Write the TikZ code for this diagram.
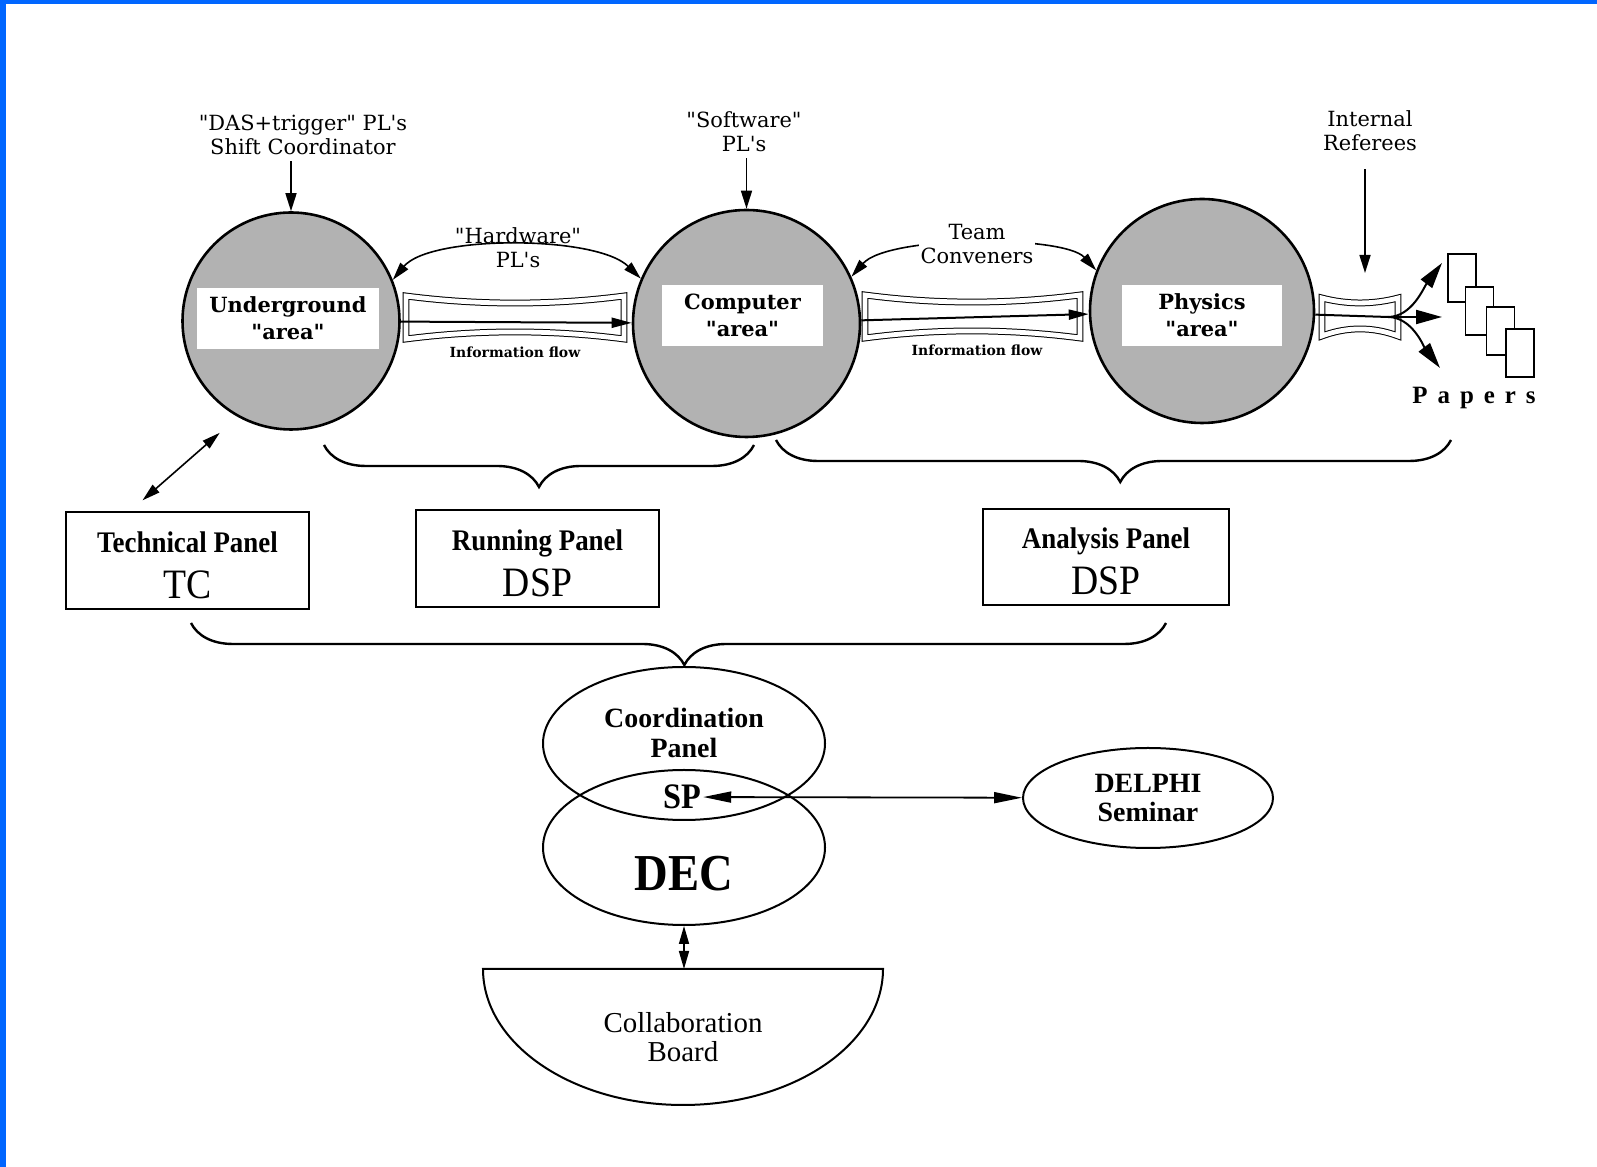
\documentclass[tikz,border=0pt]{standalone}
\usepackage{fontspec}
\setmainfont{Liberation Serif}
\newfontfamily\topfont{DejaVu Serif}
\newfontfamily\narrowfont{Liberation Serif}[FakeStretch=0.9]
\usetikzlibrary{arrows.meta,decorations.pathreplacing,shapes.geometric}
\definecolor{frameblue}{RGB}{0,102,255}
\definecolor{areagray}{gray}{0.7}
\newcommand\paneltag[1]{{\narrowfont\mdseries\fontsize{21}{21}\selectfont #1}}
\tikzset{
  area/.style={draw,circle,line width=1.3bp,fill=areagray,inner sep=0pt},
  areabox/.style={fill=white,inner sep=0pt,align=center,font=\topfont\bfseries\fontsize{10.5}{13.5}\selectfont},
  toplabel/.style={align=center,inner sep=1bp,font=\topfont\fontsize{10.5}{12}\selectfont},
  flowlabel/.style={inner sep=1bp,font=\topfont\bfseries\fontsize{7}{8}\selectfont},
  tube/.style={double,double distance=2.4bp,line width=.5bp},
  shaft/.style={line width=1bp,-{Triangle[length=10bp,width=5bp]}},
  dnarrow/.style={line width=.8bp,-{Triangle[length=9bp,width=5.5bp]}},
  twoway/.style={line width=.8bp,{Triangle[length=9bp,width=5bp]}-{Triangle[length=9bp,width=5bp]}},
  longway/.style={line width=.9bp,{Triangle[length=14bp,width=5.5bp]}-{Triangle[length=14bp,width=5.5bp]}},
  fanarrow/.style={line width=1bp,-{Triangle[length=13bp,width=7bp]}},
  paper/.style={draw,fill=white,line width=.7bp,minimum width=14bp,minimum height=24bp,inner sep=0pt},
  bracket/.style={decorate,decoration={brace,mirror,amplitude=21bp,aspect=#1},line width=1.2bp},
  panel/.style={draw,line width=1.1bp,minimum width=121.5bp,minimum height=48.5bp,align=center,
    font=\narrowfont\bfseries\fontsize{15}{23}\selectfont},
  ring/.style={draw,ellipse,line width=1bp,inner sep=0pt,align=center,
    font=\bfseries\fontsize{14}{15}\selectfont},
  ringtext/.style={align=center,inner sep=1bp,font=\bfseries\fontsize{14}{15}\selectfont},
}
\begin{document}
\begin{tikzpicture}
  \useasboundingbox (0bp,0bp) rectangle (798.5bp,583.5bp);
  \fill[frameblue] (0bp,0bp) rectangle (3bp,583.5bp);
  \fill[frameblue] (0bp,581.5bp) rectangle (798.5bp,583.5bp);
  %% the three areas
  \node (Underground) at (145.5bp,423bp) [area,minimum size=108.5bp] {};
  \node (Computer) at (373.25bp,421.75bp) [area,minimum size=113.5bp] {};
  \node (Physics) at (601bp,428bp) [area,minimum size=112bp] {};
  \node (Ulab) at (144bp,424.25bp) [areabox,minimum width=91bp,minimum height=30.5bp] {Underground\\"area"};
  \node (Clab) at (371.25bp,425.75bp) [areabox,minimum width=80.5bp,minimum height=30.5bp] {Computer\\"area"};
  \node (Plab) at (601bp,425.75bp) [areabox,minimum width=80bp,minimum height=30.5bp] {Physics\\"area"};
  %% people above
  \node (DAS) at (151.5bp,516bp) [toplabel] {"DAS+trigger" PL\textquotesingle s\\Shift Coordinator};
  \node (Soft) at (372bp,517.5bp) [toplabel] {"Software"\\PL\textquotesingle s};
  \node (Ref) at (685bp,518bp) [toplabel] {Internal\\Referees};
  \coordinate (refend) at (682.5bp,447bp);
  \draw [dnarrow,shorten <=2bp] (DAS.south -| Underground.north) -- (Underground.north);
  \draw [dnarrow,shorten <=2bp] (Soft.south -| Computer.north) -- (Computer.north);
  \draw [dnarrow,shorten <=8bp] (Ref.south -| refend) -- (refend);
  \draw [twoway] (Underground.22) ..controls (215bp,466bp) and (298bp,466bp) .. (Computer.157);
  \node (HW) at (259bp,459.75bp) [toplabel] {"Hardware"\\PL\textquotesingle s};
  \draw [twoway] (Computer.24) ..controls (444bp,466bp) and (532bp,466bp) .. (Physics.159);
  \node (TCv) at (488.5bp,461.5bp) [toplabel,fill=white] {Team\\Conveners};
  %% information flow
  \draw [tube] (203bp,435.5bp) ..controls (239bp,430.8bp) and (276bp,430.8bp) .. (312bp,435.5bp)
    -- (312bp,414bp) ..controls (276bp,418.7bp) and (239bp,418.7bp) .. (203bp,414bp) -- cycle;
  \draw [shaft] (Underground) -- (Computer);
  \node (flow1) at (257.5bp,407.5bp) [flowlabel] {Information flow};
  \draw [tube] (432.5bp,436bp) ..controls (468bp,431.3bp) and (504bp,431.3bp) .. (540bp,436bp)
    -- (540bp,414.5bp) ..controls (504bp,419.2bp) and (468bp,419.2bp) .. (432.5bp,414.5bp) -- cycle;
  \draw [shaft] (Computer) -- (Physics);
  \node (flow2) at (488.5bp,408.5bp) [flowlabel] {Information flow};
  \draw [tube] (661bp,434.5bp) ..controls (673.5bp,431.2bp) and (686.5bp,431.2bp) .. (699bp,434.5bp)
    -- (699bp,415.5bp) ..controls (686.5bp,420.2bp) and (673.5bp,420.2bp) .. (661bp,415.5bp) -- cycle;
  \coordinate (fan) at (694bp,425bp);
  \coordinate (up) at (721bp,452bp);
  \coordinate (mid) at (721bp,425bp);
  \coordinate (low) at (720bp,399.5bp);
  \draw [line width=1bp] (Physics) -- (fan);
  \draw [fanarrow] (fan) ..controls (706bp,425bp) and (712bp,440bp) .. (up);
  \draw [fanarrow] (fan) -- (mid);
  \draw [fanarrow] (fan) ..controls (706bp,425bp) and (712bp,410bp) .. (low);
  \foreach \n/\x/\y in {1/731/444.5, 2/739.75/428, 3/750.25/418, 4/760/407}
    \node (paper\n) at (\x bp,\y bp) [paper] {};
  \node (Papers) at (737bp,384.5bp) [font=\bfseries\fontsize{12.5}{14}\selectfont\addfontfeature{LetterSpace=40}] {Papers};
  %% panels
  \draw [bracket=0.5] (162bp,361bp) -- (377bp,361bp);
  \draw [bracket=0.51] (388bp,363.5bp) -- (725.5bp,363.5bp);
  \node (Tech) at (93.75bp,303.25bp) [panel] {\rule{0pt}{15bp}Technical Panel\\\paneltag{TC}};
  \node (Running) at (268.75bp,304.25bp) [panel] {\rule{0pt}{15bp}Running Panel\\\paneltag{DSP}};
  \node (Analysis) at (553bp,305bp) [panel,minimum width=123bp,minimum height=48bp] {\rule{0pt}{14.5bp}Analysis Panel\\\paneltag{DSP}};
  \draw [twoway,shorten <=8bp,shorten >=12bp] (Tech.139) -- (Underground.241);
  \draw [bracket=0.506] (95.5bp,272bp) -- (583bp,272bp);
  %% coordination
  \node (Coord) at (342bp,211.75bp) [ring,minimum width=141bp,minimum height=76.5bp] {};
  \node (DEC) at (342bp,159.75bp) [ring,minimum width=141bp,minimum height=77.5bp] {};
  \node (CoordText) at (342bp,217bp) [ringtext] {Coordination\\Panel};
  \node (SP) at (341bp,185bp) [ringtext,font=\narrowfont\bfseries\fontsize{18}{18}\selectfont] {SP};
  \node (DECtext) at (342bp,146.5bp) [font=\narrowfont\bfseries\fontsize{26}{26}\selectfont] {DEC};
  \node (Delphi) at (574bp,184.5bp) [ring,minimum width=125bp,minimum height=50bp] {DELPHI\\Seminar};
  \draw [longway] (SP) -- (Delphi);
  \draw [line width=1bp] (241.5bp,99bp) -- (441.5bp,99bp)
    arc[start angle=0,end angle=-180,x radius=100bp,y radius=68bp] -- cycle;
  \coordinate (boardtop) at (342bp,99bp);
  \node (Board) at (341.5bp,65bp) [ringtext,font=\fontsize{14.5}{14.5}\selectfont] {Collaboration\\Board};
  \draw [twoway] (DEC.south) -- (boardtop);
\end{tikzpicture}
\end{document}
